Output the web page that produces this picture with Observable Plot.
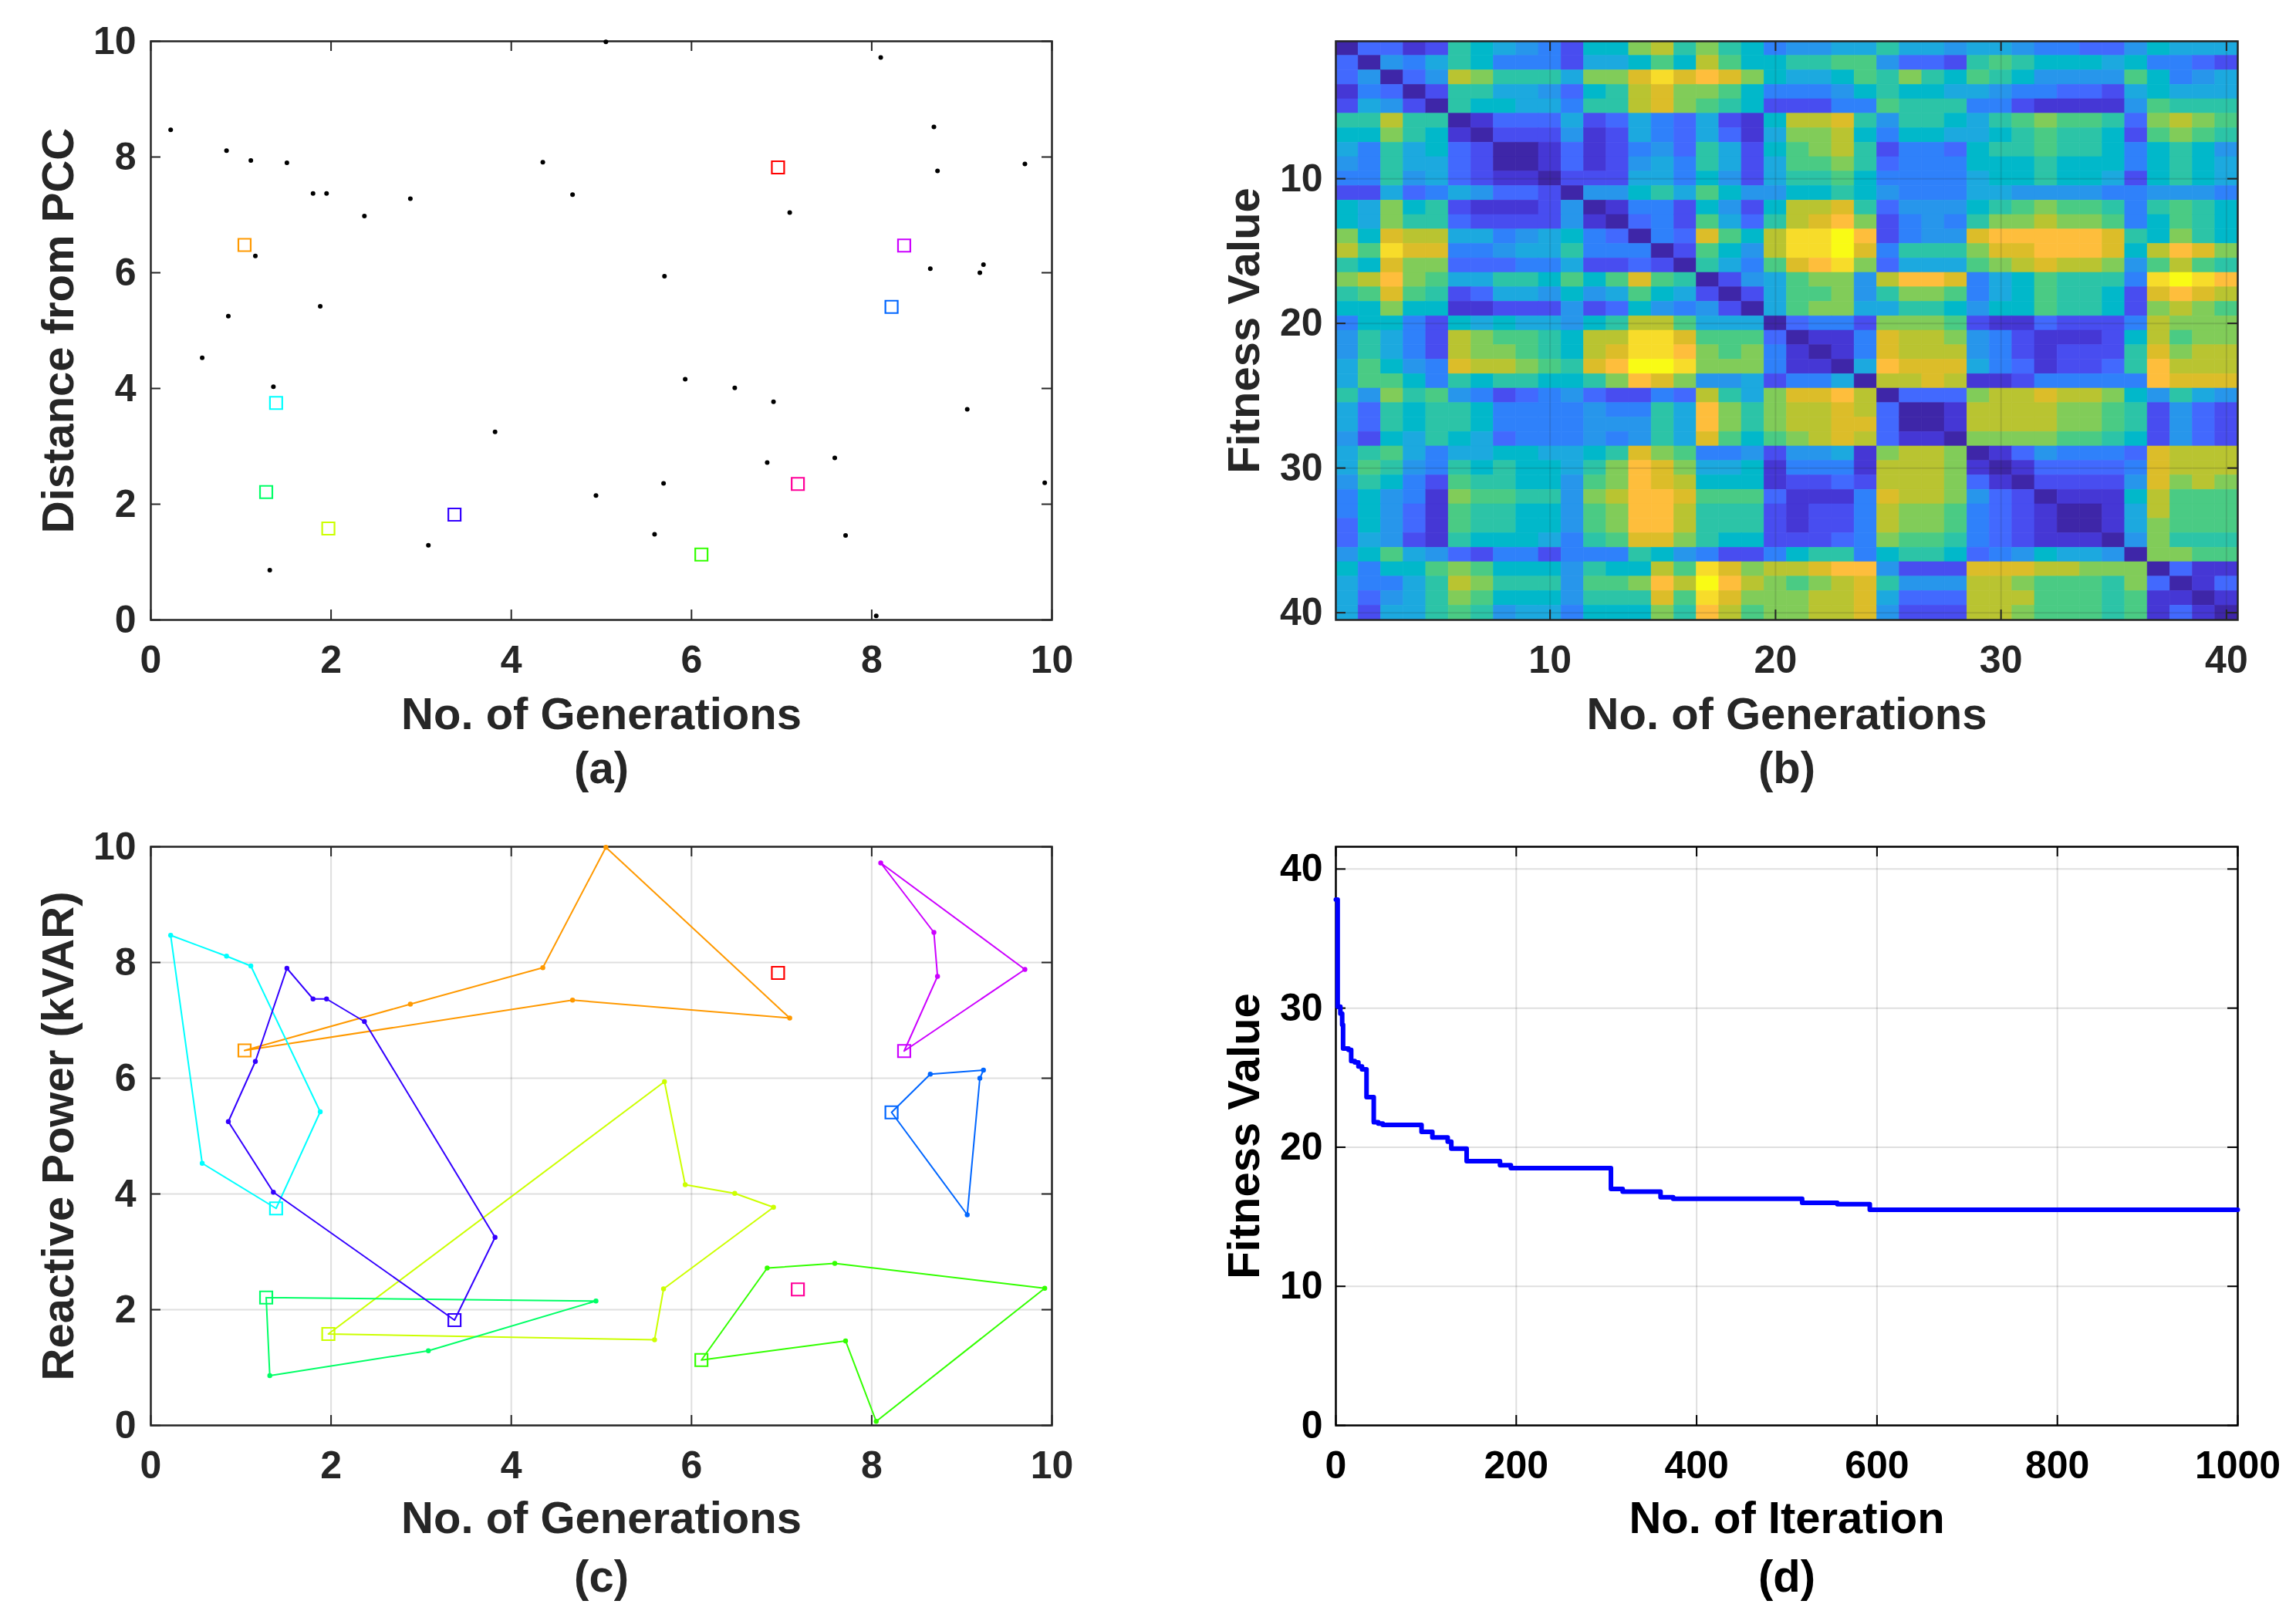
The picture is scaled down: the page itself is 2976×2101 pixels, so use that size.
<!DOCTYPE html>
<html>
<head>
<meta charset="utf-8">
<script src="https://cdn.jsdelivr.net/npm/d3@7"></script>
<script src="https://cdn.jsdelivr.net/npm/@observablehq/plot@0.6"></script>
<style>
  html, body { margin: 0; padding: 0; background: #fff; }
  #root { position: relative; width: 2976px; height: 2101px; background: #fff; overflow: hidden; }
  .panel { position: absolute; width: 1488px; }
  .panel svg { display: block; }
</style>
</head>
<body>
<div id="root"></div>
<script>
// ---------------- DATA ----------------
// cluster ids and MATLAB hsv(10) colours
const clusterIds = [1, 2, 3, 4, 5, 6, 7, 8, 9, 10];
const clusterColors = ["#ff0000", "#ff9900", "#ccff00", "#33ff00", "#00ff66",
                       "#00ffff", "#0066ff", "#3300ff", "#cc00ff", "#ff0099"];
// cluster centres (squares)
const centroidX = [6.96, 1.04, 1.97, 6.11, 1.28, 1.39, 8.22, 3.37, 8.36, 7.18];
const centroidY = [7.82, 6.48, 1.58, 1.13, 2.21, 3.75, 5.41, 1.82, 6.47, 2.35];
// the 40 nodes, grouped by cluster in tour order
const pointCluster = [2, 2, 2, 2, 2,
                      3, 3, 3, 3, 3, 3,
                      4, 4, 4, 4, 4,
                      5, 5, 5,
                      6, 6, 6, 6, 6,
                      7, 7, 7, 7,
                      8, 8, 8, 8, 8, 8, 8, 8,
                      9, 9, 9, 9];
const pointX = [2.88, 4.35, 5.05, 7.09, 4.68,
                5.70, 5.93, 6.48, 6.91, 5.69, 5.59,
                6.84, 7.59, 9.92, 8.05, 7.71,
                4.94, 3.08, 1.32,
                1.88, 1.11, 0.84, 0.22, 0.57,
                8.65, 9.24, 9.20, 9.06,
                3.82, 2.37, 1.95, 1.80, 1.51, 1.16, 0.86, 1.36,
                8.73, 8.69, 8.10, 9.70];
const pointY = [7.28, 7.91, 9.99, 7.04, 7.35,
                5.94, 4.16, 4.01, 3.77, 2.36, 1.48,
                2.72, 2.80, 2.37, 0.07, 1.46,
                2.15, 1.29, 0.86,
                5.42, 7.94, 8.11, 8.47, 4.53,
                6.07, 6.14, 6.00, 3.64,
                3.25, 6.98, 7.37, 7.37, 7.90, 6.29, 5.25, 4.03,
                7.76, 8.52, 9.72, 7.88];

// heat map (b): 40 rows x 40 columns, each char a level 0..15 (hex) on the parula scale
const heatRows = [
  "0331287654277ab8a87455668665665443357666",
  "3054687444266797b977889953328987776744 32".replace(" ", ""),
  "35035ba8886aacecdca766798a87987555597456",
  "1430288665378bcaa97444578776654433267666",
  "2652087766488bca987222449888442111159888",
  "88b88013336236436217bbc85887689a9983aba9",
  "77a87102225126436316aab74776678988729a98",
  "64867320013124538627 9ab82443788988747875".replace(" ", ""),
  "5486632001312564862699a83444777877747876",
  "4485632110222664752688974444677877627876",
  "2263465332055786975577875444665555445554",
  "76a78211125014427527bbc83555789a99848987",
  "76a88322225103429638bcda24548aabaa947987",
  "a7cbb66456743043c97beefd2455cdddddc87a87",
  "b9ecc44566844402975beefc4888accdddc7bdca",
  "87caa333446223208649cdea36669abcbba59b98",
  "abda966887979c9802569aa5bddc46798884efed",
  "89c9823665756976202699a58aa946798872cdcb",
  "77a771122252375452069aa6688757798872aba9",
  "4774276766578bb966603442aaa921132224baaa",
  "58642ba9987bbeec99930114cbba54211127b9aa",
  "58642baa987bceeda9a41014cbbb54212228cabb",
  "69754cbba98cdffeaaa41106dccc64312238dbbb",
  "699748788778adca55624460bbcb11244444dccc",
  "85a8954234532243b86accdb0333abbcbba75865",
  "6387887444454486da8abbcb3001bbbbaa982532",
  "6387887444455586da8abbcc3001bbbbaa982532",
  "5276876344454586c979abcb3110aaaa99872532",
  "6896466776678ca944525561abba01354443cbbb",
  "698548787768adca66714441bbba10133334cbbb",
  "587429887759adcb77712232bbba31022225caba",
  "47541a99885abddc99931114cbba53201117b999",
  "475319887759addb88821224baa943210016b999",
  "375319887759addb88821224baa943210016a999",
  "3652187776489cca87722234a99843211105a888",
  "57965324424448754224788478873457 6650aa99".replace(" ", ""),
  "74779a97775877b9ecabbcdd5222cccbbaaa0311",
  "64468ba888599adbfdba9abc8555bba9998a3013",
  "63568a97775888c9ecaaabbc6333bbb999891101",
  "62668985664777a8db9aabbc5222bba999891310"
];
// MATLAB parula colours at the 16 levels used above
const parula16 = ["#3e26a8", "#4537d5", "#484df0", "#4269fe", "#2f81fa", "#2796eb",
                  "#1ca9df", "#01b8ca", "#2cc4a7", "#4acb84", "#81cc59", "#b9c431",
                  "#dcbd29", "#febe3c", "#f7dc2a", "#f9fb15"];

// convergence curve (d)
const iterStep = [0, 2, 5, 7, 8, 14, 17, 21, 25, 29, 34, 42, 47, 52, 95, 107, 124, 128,
                  145, 182, 194, 305, 318, 360, 374, 517, 556, 592, 1000];
const fitStep = [37.8, 30.1, 29.6, 28.8, 27.1, 27.0, 26.2, 26.1, 25.8, 25.6, 23.6, 21.8,
                 21.7, 21.6, 21.1, 20.7, 20.4, 19.9, 19.0, 18.7, 18.5, 17.0, 16.8, 16.4,
                 16.3, 16.0, 15.9, 15.5, 15.5];

// tick values
const ticks10 = [0, 2, 4, 6, 8, 10];
const heatTicks = [10, 20, 30, 40];
const iterTicks = [0, 200, 400, 600, 800, 1000];
const fitTicks = [0, 10, 20, 30, 40];

// ---------------- BUILD TABLES ----------------
const points = pointX.map((x, i) => ({x, y: pointY[i], cluster: pointCluster[i]}));
const centroids = clusterIds.map((c, i) => ({cluster: c, x: centroidX[i], y: centroidY[i]}));
const tours = [];
clusterIds.forEach((c, i) => {
  const pts = points.filter(p => p.cluster === c);
  if (!pts.length) return;
  const cen = {cluster: c, x: centroidX[i], y: centroidY[i]};
  tours.push(cen, ...pts, cen);
});
const cells = [];
heatRows.forEach((s, r) => {
  for (let c = 0; c < s.length; ++c) cells.push({row: r + 1, col: c + 1, v: parseInt(s[c], 16)});
});
const conv = iterStep.map((it, i) => ({it, f: fitStep[i]}));

// ---------------- HELPERS ----------------
const FONT = "'Liberation Sans', Arial, Helvetica, sans-serif";
const W = 1488;
const root = document.getElementById("root");
function place(left, top, svg) {
  const d = document.createElement("div");
  d.className = "panel";
  d.style.left = left + "px";
  d.style.top = top + "px";
  d.appendChild(svg);
  root.appendChild(d);
}
function boxTicks(xt, yt, pw, ph, color) {
  const len = 13, sw = 2;
  return [
    Plot.tickX(xt, {x: d => d, insetTop: ph - len, stroke: color, strokeWidth: sw}),
    Plot.tickX(xt, {x: d => d, insetBottom: ph - len, stroke: color, strokeWidth: sw}),
    Plot.tickY(yt, {y: d => d, insetRight: pw - len, stroke: color, strokeWidth: sw}),
    Plot.tickY(yt, {y: d => d, insetLeft: pw - len, stroke: color, strokeWidth: sw})
  ];
}
function axes(xt, yt, color, yPad) {
  return [
    Plot.axisX({ticks: xt, tickSize: 0, tickPadding: 33, fontSize: 50, fontWeight: "bold",
                fill: color, label: null, tickFormat: d => String(d)}),
    Plot.axisY({ticks: yt, tickSize: 0, tickPadding: yPad, fontSize: 50, fontWeight: "bold",
                fill: color, label: null, tickFormat: d => String(d)})
  ];
}
function titles(xLabel, cap, yLabel, xdy, capdy, ydx, color) {
  const o = {text: d => d, fontSize: 58, fontWeight: "bold", fill: color,
             textAnchor: "middle", lineAnchor: "middle"};
  return [
    Plot.text([xLabel], {...o, frameAnchor: "bottom", dy: xdy}),
    Plot.text([cap], {...o, frameAnchor: "bottom", dy: capdy}),
    Plot.text([yLabel], {...o, frameAnchor: "left", dx: ydx, rotate: -90})
  ];
}
const clusterColor = {type: "ordinal", domain: clusterIds, range: clusterColors};
const TXT = "#262626";

// ---------------- PANEL (a) ----------------
place(0, 0, Plot.plot({
  width: W, height: 1050,
  marginLeft: 195, marginRight: 125, marginTop: 53, marginBottom: 247,
  style: {fontFamily: FONT, background: "white", overflow: "visible"},
  x: {domain: [0, 10]}, y: {domain: [0, 10]},
  color: clusterColor,
  marks: [
    Plot.frame({stroke: TXT, strokeWidth: 2.5}),
    ...boxTicks(ticks10, ticks10, 1168, 750, TXT),
    ...axes(ticks10, ticks10, TXT, 19),
    Plot.dot(points, {x: "x", y: "y", r: 3, fill: "black"}),
    Plot.dot(centroids, {x: "x", y: "y", symbol: "square", r: 9, stroke: "cluster", fill: "none", strokeWidth: 2.2}),
    ...titles("No. of Generations", "(a)", "Distance from PCC", 123, 193, -119, TXT)
  ]
}));

// ---------------- PANEL (b) ----------------
place(1488, 0, Plot.plot({
  width: W, height: 1050,
  marginLeft: 243, marginRight: 76, marginTop: 53, marginBottom: 247,
  style: {fontFamily: FONT, background: "white", overflow: "visible"},
  x: {domain: [0.5, 40.5]}, y: {domain: [40.5, 0.5]},
  color: {type: "linear", domain: [0, 15], interpolate: d3.piecewise(d3.interpolateRgb, parula16)},
  marks: [
    Plot.rect(cells, {x1: d => d.col - 0.5, x2: d => d.col + 0.5, y1: d => d.row - 0.5, y2: d => d.row + 0.5,
                      fill: "v", stroke: "v", strokeWidth: 0.6}),
    Plot.ruleX(heatTicks, {x: d => d, stroke: TXT, strokeOpacity: 0.15, strokeWidth: 2}),
    Plot.ruleY(heatTicks, {y: d => d, stroke: TXT, strokeOpacity: 0.15, strokeWidth: 2}),
    Plot.frame({stroke: TXT, strokeWidth: 2.5}),
    ...boxTicks(heatTicks, heatTicks, 1169, 750, TXT),
    ...axes(heatTicks, heatTicks, TXT, 17),
    ...titles("No. of Generations", "(b)", "Fitness Value", 123, 193, -118, TXT)
  ]
}));

// ---------------- PANEL (c) ----------------
place(0, 1050, Plot.plot({
  width: W, height: 1051,
  marginLeft: 195, marginRight: 125, marginTop: 47, marginBottom: 254,
  style: {fontFamily: FONT, background: "white", overflow: "visible"},
  x: {domain: [0, 10]}, y: {domain: [0, 10]},
  color: clusterColor,
  marks: [
    Plot.ruleX(ticks10, {x: d => d, stroke: TXT, strokeOpacity: 0.15, strokeWidth: 2}),
    Plot.ruleY(ticks10, {y: d => d, stroke: TXT, strokeOpacity: 0.15, strokeWidth: 2}),
    Plot.frame({stroke: TXT, strokeWidth: 2.5}),
    ...boxTicks(ticks10, ticks10, 1168, 750, TXT),
    ...axes(ticks10, ticks10, TXT, 19),
    Plot.line(tours, {x: "x", y: "y", z: "cluster", stroke: "cluster", strokeWidth: 2}),
    Plot.dot(points, {x: "x", y: "y", r: 3.2, fill: "cluster"}),
    Plot.dot(centroids, {x: "x", y: "y", symbol: "square", r: 9, stroke: "cluster", fill: "none", strokeWidth: 2.2}),
    ...titles("No. of Generations", "(c)", "Reactive Power (kVAR)", 121, 197, -119, TXT)
  ]
}));

// ---------------- PANEL (d) ----------------
place(1488, 1050, Plot.plot({
  width: W, height: 1051,
  marginLeft: 243, marginRight: 76, marginTop: 47, marginBottom: 254,
  style: {fontFamily: FONT, background: "white", overflow: "visible"},
  x: {domain: [0, 1000]}, y: {domain: [0, 41.6]},
  marks: [
    Plot.ruleX(iterTicks, {x: d => d, stroke: TXT, strokeOpacity: 0.15, strokeWidth: 2}),
    Plot.ruleY(fitTicks, {y: d => d, stroke: TXT, strokeOpacity: 0.15, strokeWidth: 2}),
    Plot.frame({stroke: "#000", strokeWidth: 2.5}),
    ...boxTicks(iterTicks, fitTicks, 1169, 750, "#000"),
    ...axes(iterTicks, fitTicks, "#000", 17),
    Plot.line(conv, {x: "it", y: "f", curve: "step-after", stroke: "#0000ff", strokeWidth: 6}),
    ...titles("No. of Iteration", "(d)", "Fitness Value", 121, 197, -118, "#000")
  ]
}));
</script>
</body>
</html>
